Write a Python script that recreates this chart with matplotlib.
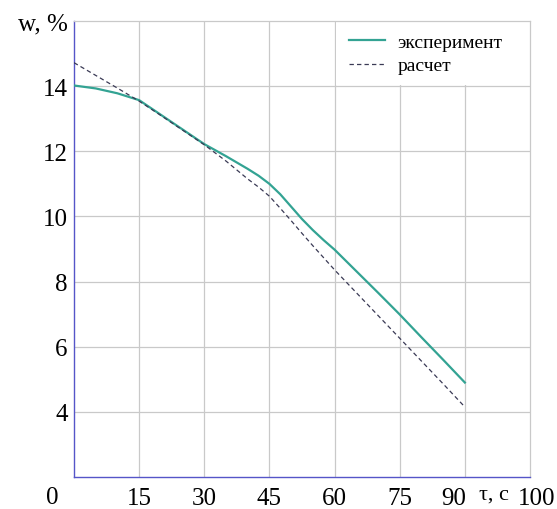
import matplotlib
matplotlib.use("Agg")
import matplotlib.pyplot as plt
from matplotlib.patches import Rectangle
from matplotlib.transforms import ScaledTranslation

plt.rcParams['font.family'] = ['Liberation Serif', 'DejaVu Serif']

# time, s
t = [0, 5, 10, 15, 20, 25, 30, 35, 40, 42.5, 45, 47.5, 50, 52.5, 55, 57.5, 60,
     65, 70, 75, 80, 85, 90]
# moisture, % (experiment)
w_exp = [14.02, 13.93, 13.78, 13.57, 13.12, 12.67, 12.22, 11.85, 11.46, 11.25,
         11.0, 10.68, 10.3, 9.92, 9.58, 9.27, 8.98,
         8.32, 7.66, 6.99, 6.29, 5.6, 4.9]
# moisture, % (calculation)
w_calc = [14.72, 14.33, 13.94, 13.54, 13.1, 12.65, 12.2, 11.7, 11.15, 10.9,
          10.62, 10.25, 9.87, 9.48, 9.1, 8.73, 8.36,
          7.66, 6.96, 6.26, 5.56, 4.86, 4.15]

x_ticks = [15, 30, 45, 60, 75, 90, 105]
x_labels = ['15', '30', '45', '60', '75', '90', '100']
y_ticks = [4, 6, 8, 10, 12, 14, 16]
y_labels = ['4', '6', '8', '10', '12', '14', 'w, %']

teal = '#33a393'
dark = '#3a3a55'
blue = '#5555c8'
grid_c = '#c9c9c9'

fig = plt.figure(figsize=(5.57, 5.10), dpi=100)
ax = fig.add_axes([74 / 557, 1 - 478 / 510, 456 / 557, 456 / 510])

ax.plot(t, w_exp, color=teal, lw=1.6, label='эксперимент', zorder=3)
ax.plot(t, w_calc, color=dark, lw=0.9, dashes=(3.5, 2.5), label='расчет', zorder=3)

ax.set_xticks(x_ticks)
ax.set_xticklabels(x_labels)
ax.set_yticks(y_ticks)
ax.set_yticklabels(y_labels)
ax.set_xlim(0, 105)
ax.set_ylim(2, 16)
ax.tick_params(length=0, labelsize=18)
ax.tick_params(axis='x', pad=7)
ax.tick_params(axis='y', pad=4.5)

# nudge "90" left and "100" right, as in the original
labs = ax.get_xticklabels()
for lab, dx in [(labs[5], -8), (labs[6], 5)]:
    lab.set_transform(lab.get_transform()
                      + ScaledTranslation(dx / 72, 0, fig.dpi_scale_trans))

# grid
for xv in [15, 30, 45, 60, 75, 90]:
    ax.axvline(xv, color=grid_c, lw=0.9, zorder=0.5)
for yv in [4, 6, 8, 10, 12, 14]:
    ax.axhline(yv, color=grid_c, lw=0.9, zorder=0.5)

# white box behind the legend
ax.add_patch(Rectangle((60.4, 14.04), 45, 2.5, facecolor='white',
                       edgecolor='none', zorder=1))

for s in ['top', 'right']:
    ax.spines[s].set_color(grid_c)
    ax.spines[s].set_linewidth(0.9)
for s in ['left', 'bottom']:
    ax.spines[s].set_color(blue)
    ax.spines[s].set_linewidth(1.0)

ax.text(-3.5, 1.72, '0', fontsize=18, ha='right', va='top', clip_on=False)
ax.text(96.6, 1.76, 'τ, с', fontsize=16, ha='center', va='top', clip_on=False)

ax.legend(loc='upper left', bbox_to_anchor=(0.585, 0.99), frameon=False,
          fontsize=14, handlelength=1.9, handletextpad=0.6, labelspacing=0.3,
          borderaxespad=0)

fig.savefig('out.png', dpi=100)
